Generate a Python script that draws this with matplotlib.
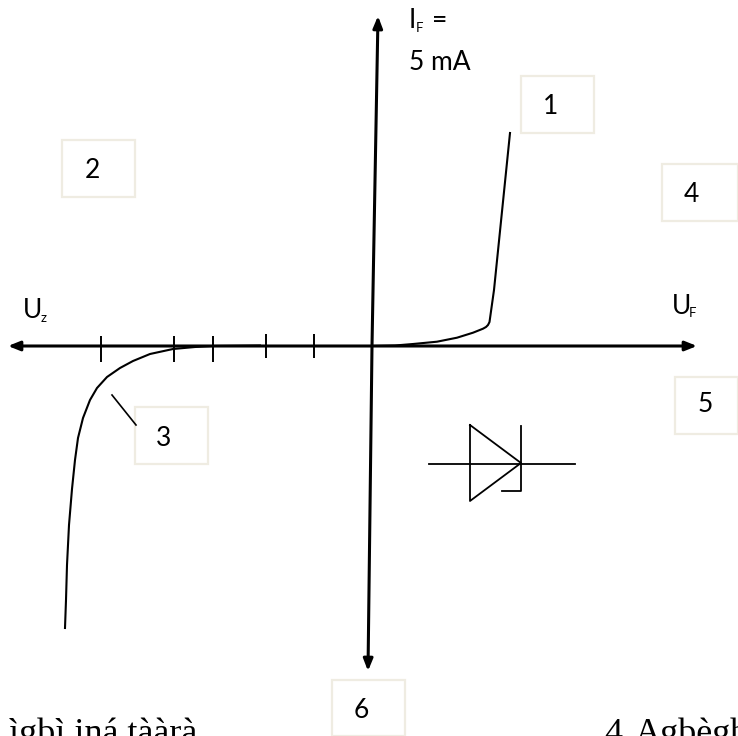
#!/usr/bin/python3
# zener diode characteristic, drawn in picture pixel coordinates
import matplotlib
matplotlib.use('Agg')
import matplotlib.pyplot as plt
from matplotlib.patches import Rectangle

# forward branch and reverse branch of the curve
forward_x = [372, 395, 413, 437, 457, 473, 483, 486, 488, 489.5, 494, 510]
forward_y = [346, 345.5, 344, 341.7, 337.7, 332.7, 328.7, 327, 325, 322, 290, 133]
reverse_x = [65, 66, 67, 69, 72, 75, 78, 83, 90, 97, 107, 120, 133, 150, 173, 195, 213, 260]
reverse_y = [628, 600, 565, 525, 489, 460, 438, 418, 400, 388, 377, 368, 361, 354, 349, 347, 346, 345.5]

tick_x = [101, 174, 213, 266, 314]
tick_top = [336, 336, 336, 334, 334]
tick_bottom = [362, 362, 362, 358, 358]

leader_x = [112, 136]
leader_y = [395, 425]

# numbered boxes
box_labels = ['1', '2', '3', '4', '5', '6']
box_left = [521, 62, 135, 662, 675, 332]
box_top = [76, 140, 407, 164, 377, 680]
box_width = [73, 73, 73, 76, 63, 73]
box_height = [57, 57, 57, 57, 57, 56]
label_x = [551, 92, 164, 691, 705, 361]
label_y = [107, 170, 439, 195, 405, 710]

# diode symbol
diode_wire_x = [429, 575]
diode_wire_y = [464, 464]
diode_triangle_x = [470, 470, 521, 470]
diode_triangle_y = [425, 501, 463, 425]
diode_bar_x = [521, 521, 502]
diode_bar_y = [426, 491, 491]

box_color = '#efece2'
sans = 'Lato'
serif = 'Liberation Serif'

fig = plt.figure(figsize=(7.38, 7.36), dpi=100)
ax = fig.add_axes([0, 0, 1, 1])
ax.set_xlim(0, 738)
ax.set_ylim(736, 0)
ax.axis('off')

for i in range(len(box_labels)):
    ax.add_patch(Rectangle((box_left[i], box_top[i]), box_width[i], box_height[i],
                           fill=False, edgecolor=box_color, linewidth=1.6, clip_on=False))
    ax.text(label_x[i], label_y[i], box_labels[i], family=sans, fontsize=19,
            ha='center', va='center', color='black')

# axes with arrow heads
arrow = dict(arrowstyle='-|>,head_width=0.28,head_length=0.7', color='black', lw=2.2,
             shrinkA=0, shrinkB=0)
ax.annotate('', xy=(8, 346), xytext=(372, 346), arrowprops=arrow)
ax.annotate('', xy=(697, 346), xytext=(372, 346), arrowprops=arrow)
ax.annotate('', xy=(378, 16), xytext=(372, 346), arrowprops=arrow)
ax.annotate('', xy=(368, 671), xytext=(372, 346), arrowprops=arrow)

ax.vlines(tick_x, tick_top, tick_bottom, color='black', lw=1.4)
ax.plot(forward_x, forward_y, color='black', lw=1.5)
ax.plot(reverse_x, reverse_y, color='black', lw=1.5)
ax.plot(leader_x, leader_y, color='black', lw=1.2)

ax.plot(diode_wire_x, diode_wire_y, color='black', lw=1.3)
ax.plot(diode_triangle_x, diode_triangle_y, color='black', lw=1.3)
ax.plot(diode_bar_x, diode_bar_y, color='black', lw=1.3)

# axis labels, subscripts set by hand
ax.text(409, 21, 'I', family=sans, fontsize=19, ha='left', va='center')
ax.text(416, 28, 'F', family=sans, fontsize=9.5, ha='left', va='center')
ax.text(432, 20, '=', family=sans, fontsize=19, ha='left', va='center')
ax.text(409, 62, '5 mA', family=sans, fontsize=19, ha='left', va='center')
ax.text(23, 310, 'U', family=sans, fontsize=19, ha='left', va='center')
ax.text(41, 318, 'z', family=sans, fontsize=9.5, ha='left', va='center')
ax.text(672, 306, 'U', family=sans, fontsize=19, ha='left', va='center')
ax.text(689, 313, 'F', family=sans, fontsize=9.5, ha='left', va='center')

# body text cut by the bottom edge
ax.text(9, 743, 'ìgbì iná tààrà', family=serif, fontsize=26, ha='left', va='baseline')
ax.text(604, 743, '4.', family=serif, fontsize=26, ha='left', va='baseline')
ax.text(635, 743, 'Agbègbè', family=serif, fontsize=26, ha='left', va='baseline')

fig.savefig('out.png', dpi=100)
